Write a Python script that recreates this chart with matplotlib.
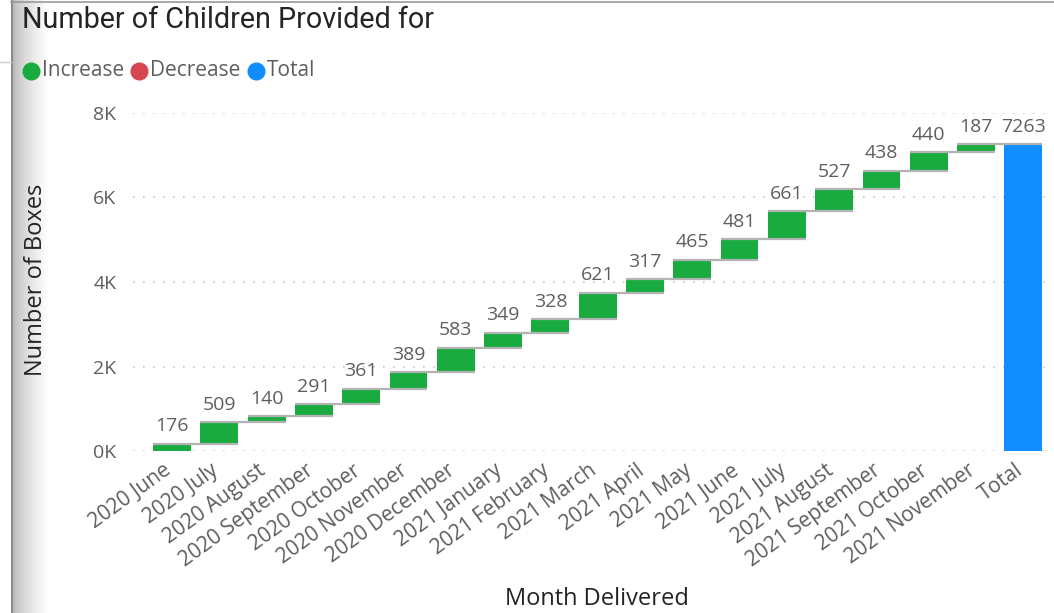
import matplotlib
matplotlib.use("Agg")
import matplotlib.pyplot as plt
import matplotlib.transforms as mtransforms
import numpy as np
from matplotlib.lines import Line2D

categories = ["2020 June", "2020 July", "2020 August", "2020 September", "2020 October",
              "2020 November", "2020 December", "2021 January", "2021 February", "2021 March",
              "2021 April", "2021 May", "2021 June", "2021 July", "2021 August",
              "2021 September", "2021 October", "2021 November"]
increases = [176, 509, 140, 291, 361, 389, 583, 349, 328, 621, 317, 465, 481, 661, 527, 438, 440, 187]
total_label = "Total"
total_value = 7263
y_ticks = [0, 2000, 4000, 6000, 8000]
y_tick_labels = ["0K", "2K", "4K", "6K", "8K"]

GREEN = "#1aab40"
RED = "#d64550"
BLUE = "#118dff"
TXT = "#605e5c"
DARK = "#252423"
FONT = "Open Sans"

W, H = 1054, 613
fig = plt.figure(figsize=(W / 100, H / 100), dpi=100)
fig.patch.set_facecolor("white")

# left shadow strip
sax = fig.add_axes([0, 0, 48 / W, 1])
grad = np.ones((2, 48))
for x in range(48):
    if x < 11:
        grad[:, x] = 1.0
    elif x < 13:
        grad[:, x] = 0.55
    else:
        t = (x - 13) / 35
        grad[:, x] = 0.72 + 0.28 * t ** 0.7
sax.imshow(grad, cmap="gray", vmin=0, vmax=1, aspect="auto", extent=[0, 48, 0, 1])
sax.axis("off")
fig.add_artist(Line2D([11 / W, 1], [1 - 2 / H, 1 - 2 / H], color="#9a9a9a", lw=1.2))
fig.add_artist(Line2D([0, 11 / W], [1 - 62 / H, 1 - 62 / H], color="#d0d0d0", lw=1))

# main axes: pixel-based placement
px_left, px_right = 133, 1046
px_top, px_bottom = 113, 451
ax = fig.add_axes([px_left / W, 1 - px_bottom / H, (px_right - px_left) / W, (px_bottom - px_top) / H])
ax.set_zorder(2)
ax.patch.set_alpha(0)

n = len(increases)
xs = np.arange(n + 1)
cum = np.cumsum(increases)
starts = np.concatenate([[0], cum[:-1]])
bw = 0.8

ax.bar(xs[:n], increases, bottom=starts, width=bw, color=GREEN, zorder=3, linewidth=0)
ax.bar(xs[n], total_value, bottom=0, width=bw, color=BLUE, zorder=3, linewidth=0)

# connectors
for i in range(n):
    ax.plot([i - bw / 2, i + 1 + bw / 2], [cum[i], cum[i]], color="#b3b3b3", lw=1.6, zorder=4,
            solid_capstyle="butt")

# data labels
for i in range(n):
    ax.annotate(f"{increases[i]}", (i, cum[i]), xytext=(0, 6), textcoords="offset points",
                ha="center", va="bottom", fontsize=14, color=TXT, family=FONT)
ax.annotate(f"{total_value}", (n, total_value), xytext=(0, 6), textcoords="offset points",
            ha="center", va="bottom", fontsize=14, color=TXT, family=FONT)

ax.set_xlim(-0.825, n + 0.48)
ax.set_ylim(0, 8000)
ax.set_yticks(y_ticks)
ax.set_yticklabels(y_tick_labels, family=FONT, fontsize=14, color=TXT)
ax.set_xticks(xs)
ax.set_xticklabels([])

# rotated category labels drawn manually with pixel offset
trans = ax.get_xaxis_transform() + mtransforms.ScaledTranslation(-9 / 100, -9 / 100, fig.dpi_scale_trans)
for i, lab in enumerate(categories + [total_label]):
    ax.text(i, 0, lab, transform=trans, rotation=36, ha="right", va="top",
            rotation_mode="anchor", fontsize=15, color=TXT, family=FONT, clip_on=False)

ax.tick_params(axis="both", length=0)
ax.tick_params(axis="y", pad=12)
for s in ax.spines.values():
    s.set_visible(False)
ax.grid(axis="y", linestyle=(0, (1, 5)), color="#c8c8c8", lw=1.2, zorder=0)
ax.set_axisbelow(True)

fig.text(36 / W, 1 - 280 / H, "Number of Boxes", rotation=90, ha="center", va="center",
         fontsize=17, color=DARK, family=FONT)
fig.text(597 / W, 1 - 599 / H, "Month Delivered", ha="center", va="center",
         fontsize=17, color=DARK, family=FONT)

# title
fig.text(22 / W, 1 - 20 / H, "Number of Children Provided for", ha="left", va="center",
         fontsize=20.7, color=DARK, family="Roboto")

# legend
legend_items = [("Increase", GREEN), ("Decrease", RED), ("Total", BLUE)]
lx = 23
for label, col in legend_items:
    fig.add_artist(Line2D([(lx + 8) / W], [1 - 71 / H], marker="o", markersize=12,
                          color=col, linestyle="none"))
    t = fig.text((lx + 19) / W, 1 - 71 / H, label, ha="left", va="center", fontsize=15,
                 color=TXT, family=FONT)
    fig.canvas.draw()
    bb = t.get_window_extent()
    lx = bb.x1 + 7

fig.savefig("out.png", dpi=100, facecolor="white")
